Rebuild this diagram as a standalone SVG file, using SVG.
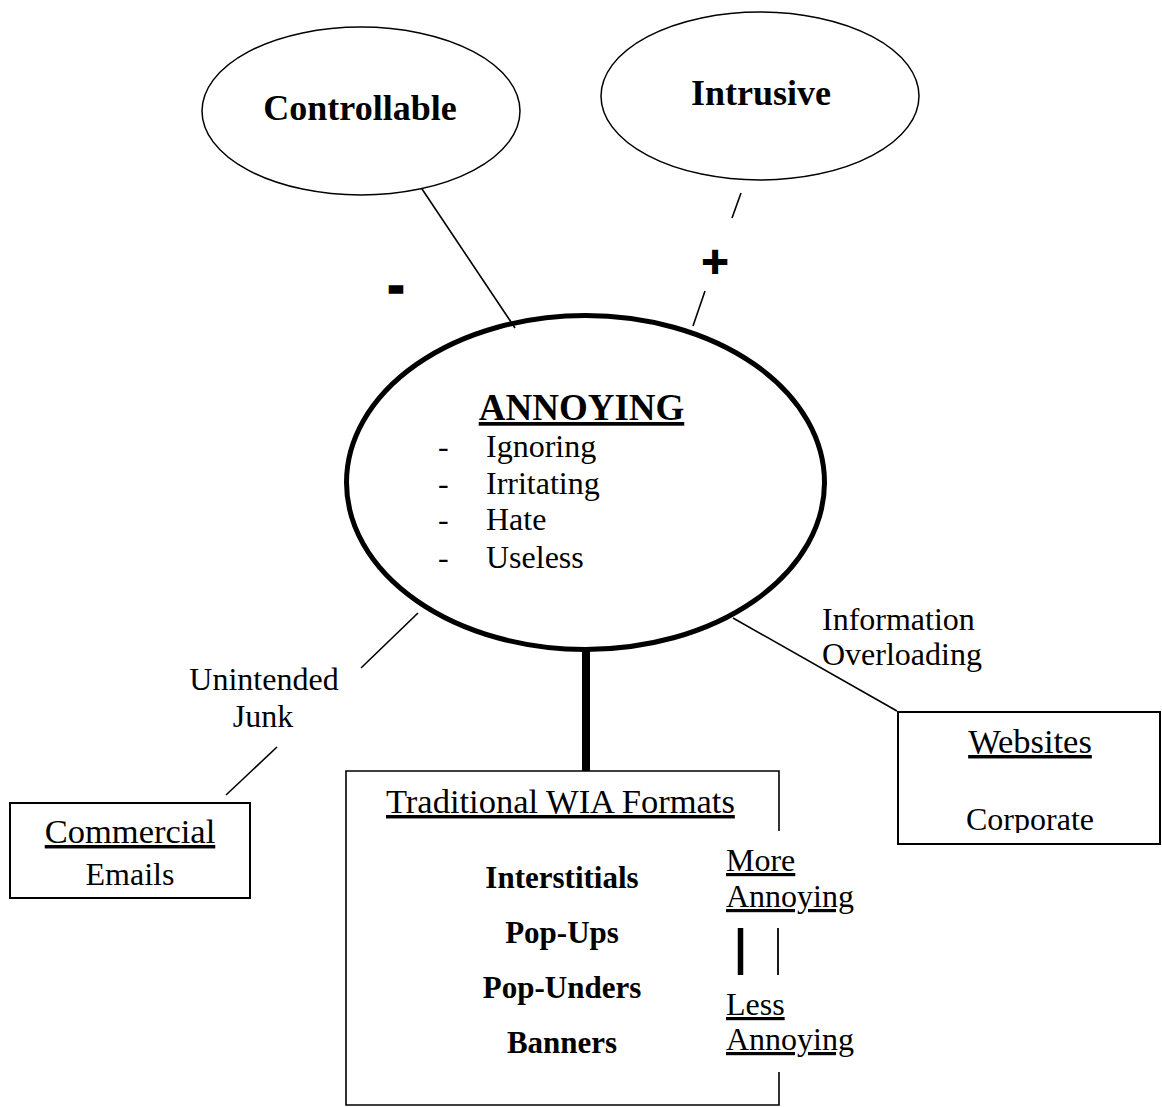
<svg xmlns="http://www.w3.org/2000/svg" width="1162" height="1107" viewBox="0 0 1162 1107">
  <style>
    .t { font-family: "Liberation Serif", "Times New Roman", serif; font-size: 32px; fill: #000; }
    .b { font-weight: bold; }
    .u { text-decoration: underline; }
    .mid { text-anchor: middle; }
    .head { font-size: 34.5px; }
    .title { font-size: 36px; }
    .item { font-size: 31px; }
    .thin { stroke: #000; stroke-width: 1.6; fill: none; }
    .box { stroke: #000; stroke-width: 2; fill: #fff; }
    .sign { font-family: "DejaVu Sans", sans-serif; font-weight: bold; fill: #000; text-anchor: middle; }
  </style>
  <defs>
    <clipPath id="corpClip">
      <rect x="900" y="713" width="258" height="120"/>
    </clipPath>
  </defs>
  <rect width="1162" height="1107" fill="#fff"/>

  <!-- connectors -->
  <g id="connectors">
    <!-- Controllable to ANNOYING (negative) -->
    <line class="thin" x1="418" y1="183" x2="515" y2="328"/>
    <!-- Intrusive to ANNOYING (positive), broken around the plus sign -->
    <line class="thin" x1="741" y1="193" x2="732" y2="218"/>
    <line class="thin" x1="705" y1="291" x2="693" y2="326"/>
    <!-- ANNOYING to Commercial Emails, broken around the label -->
    <line class="thin" x1="418" y1="613" x2="361" y2="668"/>
    <line class="thin" x1="277" y1="747" x2="226" y2="795"/>
    <!-- ANNOYING to Websites -->
    <line class="thin" x1="733" y1="618" x2="897" y2="711"/>
    <!-- ANNOYING to Traditional WIA Formats -->
    <line x1="586" y1="648" x2="586" y2="771" stroke="#000" stroke-width="8"/>
    <!-- signs and labels -->
    <text class="sign" x="396" y="300" font-size="36" stroke="#000" stroke-width="3.5">-</text>
    <text class="sign" x="715" y="273" font-size="36" stroke="#000" stroke-width="1.8">+</text>
    <text class="t mid" x="264" y="690">Unintended</text>
    <text class="t mid" x="263" y="727">Junk</text>
    <text class="t" x="822" y="630">Information</text>
    <text class="t" x="822" y="665">Overloading</text>
  </g>

  <g id="controllable">
    <ellipse cx="361" cy="111" rx="159" ry="84" fill="#fff" stroke="#000" stroke-width="1.5"/>
    <text class="t b mid title" x="360" y="120">Controllable</text>
  </g>

  <g id="intrusive">
    <ellipse cx="760" cy="96" rx="159" ry="84" fill="#fff" stroke="#000" stroke-width="1.5"/>
    <text class="t b mid title" x="761" y="105">Intrusive</text>
  </g>

  <g id="annoying">
    <ellipse cx="585.5" cy="482.5" rx="239" ry="167" fill="none" stroke="#000" stroke-width="5"/>
    <text class="t b u mid" x="581.5" y="420" style="font-size:37px">ANNOYING</text>
    <text class="t" x="438" y="457">-</text>
    <text class="t" x="486" y="457">Ignoring</text>
    <text class="t" x="438" y="494">-</text>
    <text class="t" x="486" y="494">Irritating</text>
    <text class="t" x="438" y="530">-</text>
    <text class="t" x="486" y="530">Hate</text>
    <text class="t" x="438" y="568">-</text>
    <text class="t" x="486" y="568">Useless</text>
  </g>

  <g id="commercial-emails">
    <rect class="box" x="10" y="803" width="240" height="95"/>
    <text class="t u mid head" x="130" y="843">Commercial</text>
    <text class="t mid" x="130" y="885">Emails</text>
  </g>

  <g id="websites">
    <rect class="box" x="898" y="712" width="262" height="132"/>
    <text class="t u mid head" x="1030" y="753">Websites</text>
    <text class="t mid" x="1030" y="830" clip-path="url(#corpClip)">Corporate</text>
  </g>

  <g id="traditional-formats">
    <!-- box with the right side left open beside the scale -->
    <path class="thin" d="M779 831 V771 H346 V1105 H779 V1072" stroke-width="2"/>
    <text class="t u head" x="386" y="813">Traditional WIA Formats</text>
    <text class="t b mid item" x="562" y="888">Interstitials</text>
    <text class="t b mid item" x="562" y="943">Pop-Ups</text>
    <text class="t b mid item" x="562" y="998">Pop-Unders</text>
    <text class="t b mid item" x="562" y="1053">Banners</text>
    <!-- annoyance scale -->
    <text class="t u" x="726" y="871">More</text>
    <text class="t u" x="726" y="907">Annoying</text>
    <line x1="740.5" y1="928" x2="740.5" y2="975" stroke="#000" stroke-width="5.5"/>
    <line x1="778" y1="928" x2="778" y2="975" stroke="#000" stroke-width="1.8"/>
    <text class="t u" x="726" y="1015">Less</text>
    <text class="t u" x="726" y="1050">Annoying</text>
  </g>
</svg>
